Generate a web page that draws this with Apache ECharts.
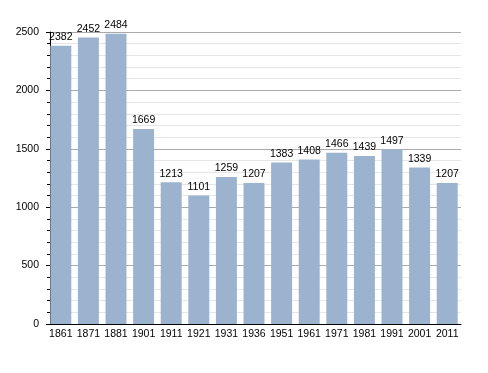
<!DOCTYPE html>
<html><head><meta charset="utf-8">
<script src="https://cdn.jsdelivr.net/npm/echarts@6/dist/echarts.min.js"></script>
<style>html,body{margin:0;padding:0;background:#fff}#c{width:488px;height:373px}</style>
</head><body><div id="c"></div>
<script>
const categories = ['1861','1871','1881','1901','1911','1921','1931','1936','1951','1961','1971','1981','1991','2001','2011'];
const population = [2382,2452,2484,1669,1213,1101,1259,1207,1383,1408,1466,1439,1497,1339,1207];
const yTicks = [0,500,1000,1500,2000,2500];
const chart = echarts.init(document.getElementById('c'), null, {renderer:'canvas'});
const font = 'Liberation Sans, Arial, sans-serif';
chart.setOption({
  animation:false,
  grid:{left:47, right:27, top:32, bottom:49, containLabel:false},
  xAxis:{type:'category', data:categories,
    axisLine:{lineStyle:{color:'#000', width:1}},
    axisTick:{show:false},
    axisLabel:{color:'#000', fontFamily:font, fontSize:10.5, margin:5, interval:0}},
  yAxis:{type:'value', min:yTicks[0], max:yTicks[yTicks.length-1], interval:500, offset:-3,
    axisLine:{show:true, lineStyle:{color:'#000', width:1}},
    axisTick:{show:true, length:4, lineStyle:{color:'#000'}},
    minorTick:{show:true, splitNumber:5, length:3, lineStyle:{color:'#000'}},
    splitLine:{show:true, lineStyle:{color:'#aaaaaa', width:1}},
    minorSplitLine:{show:true, lineStyle:{color:'#e6e6e6', width:1}},
    axisLabel:{color:'#000', fontFamily:font, fontSize:10.5, margin:11, formatter:v=>String(v)}},
  series:[{type:'bar', data:population, barCategoryGap:'24%',
    itemStyle:{color:'#9bb3ce'},
    label:{show:true, position:'top', color:'#000', fontFamily:font, fontSize:10.5, distance:3}}]
});
</script></body></html>
